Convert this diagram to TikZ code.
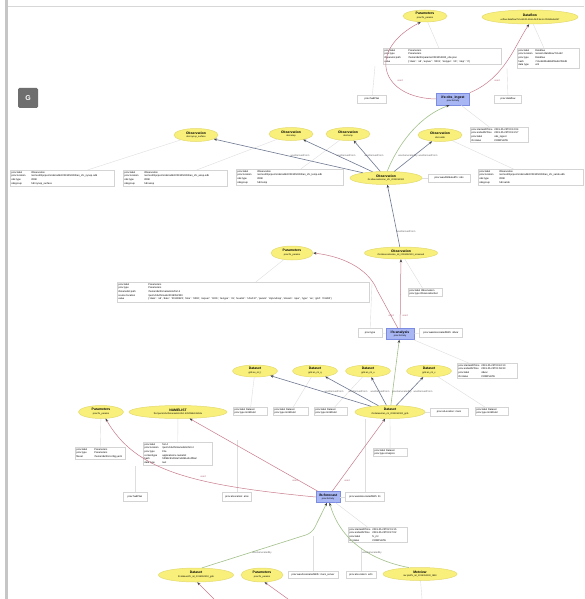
\documentclass[tikz,border=0pt]{standalone}
\usepackage{fontspec}
\setmainfont{Liberation Sans}
\usetikzlibrary{shapes.geometric,arrows.meta}

\definecolor{entfill}{HTML}{F8F07A}
\definecolor{entline}{HTML}{E4DA70}
\definecolor{actfill}{HTML}{A8B6F4}
\definecolor{actline}{HTML}{7C8CE0}
\definecolor{usedc}{HTML}{C87A8C}
\definecolor{derivc}{HTML}{6E7890}
\definecolor{genc}{HTML}{A2C08A}
\definecolor{annc}{HTML}{DEDEDE}
\definecolor{boxc}{HTML}{D4D4D4}
\definecolor{framec}{HTML}{C6C6C6}
\definecolor{btnc}{HTML}{6E6E6E}

\newcommand\entfont{\fontsize{3.4}{3.9}\selectfont}
\newcommand\subfont{\fontsize{2.3}{2.8}\selectfont}
\newcommand\infofont{\fontsize{2.5}{3.7}\selectfont}
\newcommand\entlbl[2]{{\bfseries #1}\\{\subfont #2}}
\newcommand\kv[3][20pt]{\makebox[#1][l]{#2}#3}

\tikzset{
  ent/.style={ellipse, draw=entline, fill=entfill, line width=0.5pt, inner sep=0pt, font=\entfont, align=center},
  act/.style={rectangle, draw=actline, fill=actfill, line width=0.5pt, inner sep=0pt, font=\entfont, align=center},
  info/.style={rectangle, draw=boxc, fill=white, line width=0.35pt, inner sep=1.2pt, font=\infofont, align=left, anchor=north west},
  sbox/.style={rectangle, draw=boxc, fill=white, line width=0.35pt, inner sep=0.8pt, font=\infofont},
  usedE/.style={draw=usedc, line width=0.5pt, -{Stealth[length=3.2pt,width=2.6pt,color=black!75]}},
  derE/.style={draw=derivc, line width=0.6pt, -{Stealth[length=3.2pt,width=2.6pt,color=black!75]}},
  genE/.style={draw=genc, line width=0.6pt, -{Stealth[length=3.2pt,width=2.6pt,color=black!75]}},
  annE/.style={draw=annc, line width=0.4pt},
  ulbl/.style={font=\infofont, text=usedc!90!black, inner sep=0pt},
  dlbl/.style={font=\infofont, text=black!60, inner sep=0pt},
  gbtn/.style={rectangle, rounded corners=1.5pt, fill=btnc, text=white, font=\fontsize{7}{8}\selectfont\bfseries, minimum size=20pt, inner sep=0pt}
}

\begin{document}
\begin{tikzpicture}[x=1pt,y=-1pt]
\useasboundingbox (0,0) rectangle (584,599);
\fill[white] (0,0) rectangle (584,599);

% window frame
\fill[framec] (5,0) rectangle (7.5,599);
\draw[framec!70, line width=0.8pt] (7.5,6) -- (584,6);
\node[gbtn] (gbutton) at (28,98) {G};

% ---------- top: observation ingest activity ----------
\node[ent, minimum width=44pt, minimum height=12pt] (p1) at (425,16) {\entlbl{Parameters}{prov:ifs\_params}};
\node[ent, minimum width=96pt, minimum height=14pt] (df1) at (530,17) {\entlbl{Dataflow}{ecflow:dataflow/7c1e52d0-43a9-4b4f-9a3c-2f61d8a5e0b7}};
\node[info, text width=116pt] (ip1) at (383,48) {\kv[24pt]{prov:label}{Parameters}\\
\kv[24pt]{prov:type}{Parameters}\\
\kv[24pt]{ifsparams:path}{/home/rdx/ifs/params/2019052300\_obs.json}\\
\kv[24pt]{value}{\{'class': 'od', 'expver': '0001', 'levtype': 'sfc', 'step': '0'\}}};
\node[info, text width=60pt] (idf1) at (517,48) {\kv[17pt]{prov:label}{Dataflow}\\
\kv[17pt]{prov:location}{/ec/ws1/dataflow/7c1e52}\\
\kv[17pt]{prov:type}{Dataflow}\\
\kv[17pt]{hash}{7c1e52d0a94b4f9a3c2f61d8}\\
\kv[17pt]{data type}{xml}};
\node[act, minimum width=33pt, minimum height=12pt] (b1) at (453,99) {\entlbl{ifs:obs\_ingest}{prov:Activity}};
\node[sbox, minimum width=29pt, minimum height=8pt] (s1a) at (372,99) {prov:hadPlan};
\node[sbox, minimum width=27pt, minimum height=8pt] (s1b) at (508,99) {prov:dataflow};
\node[info, text width=56pt] (ib1) at (470,127) {\kv[23pt]{prov:startedAtTime}{2019-05-23T00:12:04}\\
\kv[23pt]{prov:endedAtTime}{2019-05-23T00:41:57}\\
\kv[23pt]{prov:label}{obs\_ingest}\\
\kv[23pt]{ifs:status}{COMPLETE}};
\coordinate (s1aTop) at (375,66);
\coordinate (s1bTop) at (507,68);

% ---------- observations ----------
\node[ent, minimum width=72pt, minimum height=13pt] (o0) at (386,178) {\entlbl{Observation}{ifs:observation/an\_sfc\_2019052300}};
\node[ent, minimum width=44pt, minimum height=13pt] (o1) at (196,135) {\entlbl{Observation}{obs:synop\_surface}};
\node[ent, minimum width=44pt, minimum height=13pt] (o2) at (291,134) {\entlbl{Observation}{obs:airep}};
\node[ent, minimum width=44pt, minimum height=13pt] (o3) at (348,134) {\entlbl{Observation}{obs:temp}};
\node[ent, minimum width=44pt, minimum height=13pt] (o4) at (440,135) {\entlbl{Observation}{obs:satob}};
\node[info, text width=102pt] (io1) at (10,170) {\kv{prov:label}{Observation}\\
\kv{prov:location}{/ec/res4/hpcperm/obs/odb2/2019052300/an\_sfc\_synop.odb}\\
\kv{obs:type}{ODB}\\
\kv{obsgroup}{hdr:synop\_surface}};
\node[info, text width=102pt] (io2) at (123,170) {\kv{prov:label}{Observation}\\
\kv{prov:location}{/ec/res4/hpcperm/obs/odb2/2019052300/an\_sfc\_airep.odb}\\
\kv{obs:type}{ODB}\\
\kv{obsgroup}{hdr:airep}};
\node[info, text width=105pt] (io3) at (236,169) {\kv{prov:label}{Observation}\\
\kv{prov:location}{/ec/res4/hpcperm/obs/odb2/2019052300/an\_sfc\_temp.odb}\\
\kv{obs:type}{ODB}\\
\kv{obsgroup}{hdr:temp}};
\node[info, text width=103pt] (io4) at (478,169) {\kv{prov:label}{Observation}\\
\kv{prov:location}{/ec/res4/hpcperm/obs/odb2/2019052300/an\_sfc\_satob.odb}\\
\kv{obs:type}{ODB}\\
\kv{obsgroup}{hdr:satob}};
\node[sbox, minimum width=42pt, minimum height=8pt] (so0) at (449,178) {prov:wasAttributedTo: obs};

% ---------- analysis activity ----------
\node[ent, minimum width=73pt, minimum height=12pt] (o5) at (401,253) {\entlbl{Observation}{ifs:observation/an\_ml\_2019052300\_screened}};
\node[ent, minimum width=42pt, minimum height=14pt] (p2) at (292,253) {\entlbl{Parameters}{prov:ifs\_params}};
\node[info, text width=250pt] (ip2) at (117,282) {\kv[30pt]{prov:label}{Parameters}\\
\kv[30pt]{prov:type}{Parameters}\\
\kv[30pt]{ifsnamelist:path}{/home/rdx/ifs/namelists/fort.4}\\
\kv[30pt]{source:location}{/perm/rdx/ifs/suite/2019052300}\\
\kv[30pt]{value}{\{'class': 'od', 'date': '20190523', 'time': '0000', 'expver': '0001', 'levtype': 'ml', 'levelist': '1/to/137', 'param': 't/q/u/v/lnsp', 'stream': 'oper', 'type': 'an', 'grid': 'O1280'\}}};
\node[act, minimum width=28pt, minimum height=11pt] (b2) at (400,334) {\entlbl{ifs:analysis}{prov:Activity}};
\node[sbox, minimum width=24pt, minimum height=9pt] (s2a) at (370,333) {prov:type};
\node[sbox, minimum width=43pt, minimum height=9pt] (s2b) at (441,333) {prov:wasAssociatedWith: 4dvar};
\node[info, text width=31.5pt] (s2c) at (408,288) {prov:label Observation\\prov:type ObservationSet};
\node[info, text width=57.5pt] (ib2) at (457,363) {\kv[23pt]{prov:startedAtTime}{2019-05-23T00:42:10}\\
\kv[23pt]{prov:endedAtTime}{2019-05-23T01:58:33}\\
\kv[23pt]{prov:label}{4dvar}\\
\kv[23pt]{ifs:status}{COMPLETE}};
\coordinate (s2aTop) at (372,283);

% ---------- datasets ----------
\node[ent, minimum width=45pt, minimum height=12pt] (d1) at (255,371) {\entlbl{Dataset}{grib:an\_ml\_t}};
\node[ent, minimum width=45pt, minimum height=12pt] (d2) at (315,371) {\entlbl{Dataset}{grib:an\_ml\_q}};
\node[ent, minimum width=45pt, minimum height=12pt] (d3) at (368,371) {\entlbl{Dataset}{grib:an\_ml\_u}};
\node[ent, minimum width=45pt, minimum height=12pt] (d4) at (429,371) {\entlbl{Dataset}{grib:an\_ml\_v}};
\node[ent, minimum width=70pt, minimum height=13pt] (dc) at (390,412) {\entlbl{Dataset}{ifs:dataset/an\_ml\_2019052300\_grib}};
\node[info, text width=31.5pt] (di1) at (233,407) {prov:label Dataset\\prov:type GribField};
\node[info, text width=32.5pt] (di2) at (273,407) {prov:label Dataset\\prov:type GribField};
\node[info, text width=30.5pt] (di3) at (314,407) {prov:label Dataset\\prov:type GribField};
\node[sbox, minimum width=38pt, minimum height=8pt] (sdc) at (449,412) {prov:atLocation: mars};
\node[info, text width=30.5pt] (di4) at (475,407) {prov:label Dataset\\prov:type GribField};
\node[info, text width=31.5pt] (dci) at (373,448) {prov:label Dataset\\prov:type Analysis};

% ---------- forecast activity ----------
\node[ent, minimum width=45pt, minimum height=13pt] (p3) at (101,412) {\entlbl{Parameters}{prov:ifs\_params}};
\node[ent, minimum width=98pt, minimum height=13pt] (w1) at (178,412) {\entlbl{NAMELIST}{file:/perm/rdx/ifs/namelists/fort.4\#5f2b8c91d04e}};
\node[info, text width=47.5pt] (ip3) at (75,447) {\kv[18pt]{prov:label}{Parameters}\\
\kv[18pt]{prov:type}{Parameters}\\
\kv[18pt]{fileset}{/home/rdx/ifs/config.yaml}};
\node[info, text width=66.5pt] (iw1) at (143,442) {\kv[18pt]{prov:label}{fort.4}\\
\kv[18pt]{prov:location}{/perm/rdx/ifs/namelists/fort.4}\\
\kv[18pt]{prov:type}{File}\\
\kv[18pt]{contenttype}{application/x-namelist}\\
\kv[18pt]{hash}{5f2b8c91d04e7a63b1e0c4f8a2}\\
\kv[18pt]{data type}{text}};
\node[act, minimum width=24pt, minimum height=11pt] (b3) at (328,497) {\entlbl{ifs:forecast}{prov:Activity}};
\node[sbox, minimum width=24pt, minimum height=9pt] (s3a) at (135,497) {prov:hadPlan};
\node[sbox, minimum width=29pt, minimum height=9pt] (s3b) at (237,497) {prov:atLocation: atos};
\node[sbox, minimum width=39pt, minimum height=9pt] (s3c) at (365,497) {prov:wasAssociatedWith: ifs};
\node[info, text width=56.5pt] (ib3) at (348,527) {\kv[23pt]{prov:startedAtTime}{2019-05-23T02:01:15}\\
\kv[23pt]{prov:endedAtTime}{2019-05-23T03:47:02}\\
\kv[23pt]{prov:label}{fc\_ml}\\
\kv[23pt]{ifs:status}{COMPLETE}};
\coordinate (s3aTop) at (135,466);
\coordinate (s3bTop) at (237,440);

% ---------- bottom row ----------
\node[ent, minimum width=75pt, minimum height=14pt] (e1) at (196,575) {\entlbl{Dataset}{ifs:dataset/fc\_ml\_2019052300\_grib}};
\node[ent, minimum width=42pt, minimum height=14pt] (e2) at (262,575) {\entlbl{Parameters}{prov:ifs\_params}};
\node[ent, minimum width=74pt, minimum height=13pt] (e3) at (420,574) {\entlbl{Metview}{mv:plot/fc\_ml\_2019052300\_t850}};
\node[sbox, minimum width=50pt, minimum height=7pt] (sb1) at (313,575) {prov:wasAssociatedWith: mars\_server};
\node[sbox, minimum width=30pt, minimum height=7pt] (sb2) at (361,575) {prov:atLocation: ecfs};
\coordinate (sb1Top) at (313,536);
\coordinate (sb2Top) at (361,548);
\coordinate (cut1) at (214,599);
\coordinate (cut2) at (288,599);
\coordinate (cut3) at (422,599);

% ---------- annotation links ----------
\draw[annE] (p1) -- (ip1);
\draw[annE] (df1) -- (idf1);
\draw[annE] (s1a) -- (s1aTop);
\draw[annE] (s1b) -- (s1bTop);
\draw[annE] (b1) -- (ib1);
\draw[annE] (o1) -- (io1);
\draw[annE] (o2) -- (io2);
\draw[annE] (o3) -- (io3);
\draw[annE] (o4) -- (io4);
\draw[annE] (o0) -- (so0);
\draw[annE] (p2) -- (ip2);
\draw[annE] (o5) -- (s2c);
\draw[annE] (b2) -- (s2a);
\draw[annE] (b2) -- (s2b);
\draw[annE] (s2a) -- (s2aTop);
\draw[annE] (b2) -- (ib2);
\draw[annE] (d1) -- (di1);
\draw[annE] (d2) -- (di2);
\draw[annE] (d3) -- (di3);
\draw[annE] (d4) -- (di4);
\draw[annE] (dc) -- (sdc);
\draw[annE] (dc) -- (dci);
\draw[annE] (p3) -- (ip3);
\draw[annE] (w1) -- (iw1);
\draw[annE] (s3a) -- (s3aTop);
\draw[annE] (s3b) -- (s3bTop);
\draw[annE] (s3c.north) -- (s3c.north |- dc.south);
\draw[annE] (b3) -- (s3c);
\draw[annE] (b3) -- (ib3);
\draw[annE] (sb1) -- (sb1Top);
\draw[annE] (sb2) -- (sb2Top);
\draw[annE] (e3) -- (cut3);

% ---------- provenance relations ----------
\draw[usedE] (b1.west) .. controls (380,98) and (366,50) .. (p1.-125);
\node[ulbl] (u1) at (400,81) {used};
\draw[usedE] (b1.north east) .. controls (505,78) and (515,45) .. (df1.-97);
\node[ulbl] (u2) at (497,81) {used};

\draw[derE] (o0) -- (o1);
\node[dlbl] (l1) at (300,156) {wasDerivedFrom};
\draw[derE] (o0) -- (o2);
\node[dlbl] (l2) at (346,156) {wasDerivedFrom};
\draw[derE] (o0) -- (o3);
\node[dlbl] (l3) at (374,156) {wasDerivedFrom};
\draw[derE] (o0) -- (o4);
\node[dlbl] (l4) at (428,156) {wasDerivedFrom};
\draw[genE] (o0.80) .. controls (400,140) and (422,115) .. (b1.-120);
\node[dlbl] (g1) at (408,156) {wasGeneratedBy};

\draw[derE] (o5) -- (o0);
\node[dlbl] (l5) at (406,232) {wasDerivedFrom};
\draw[usedE] (b2) -- (o5);
\node[ulbl] (u3) at (405,316) {used};
\draw[usedE] (b2.110) -- (377,290) .. controls (370,272) and (348,257) .. (p2.east);
\node[ulbl] (u4) at (391,316) {used};

\draw[derE] (dc) -- (d1);
\node[dlbl] (l6) at (334,392) {wasDerivedFrom};
\draw[derE] (dc) -- (d2);
\node[dlbl] (l7) at (358,392) {wasDerivedFrom};
\draw[derE] (dc) -- (d3);
\node[dlbl] (l8) at (380,392) {wasDerivedFrom};
\draw[derE] (dc) -- (d4);
\node[dlbl] (l9) at (423,392) {wasDerivedFrom};
\draw[genE] (dc) -- (b2);
\node[dlbl] (g2) at (402,392) {wasGeneratedBy};

\draw[usedE] (b3.west) .. controls (190,485) and (135,470) .. (p3.-55);
\node[ulbl] (u5) at (203,477) {used};
\draw[usedE] (b3) -- (w1);
\node[ulbl] (u6) at (295,481) {used};
\draw[usedE] (b3) -- (dc);
\node[ulbl] (u7) at (347,481) {used};

\draw[genE, rounded corners=6pt] (e1.50) -- (312,533) -- (b3.-100);
\node[dlbl] (g3) at (262,553) {wasGeneratedBy};
\draw[genE] (e3.150) .. controls (370,560) and (340,540) .. (b3.-75);
\node[dlbl] (g4) at (372,553) {wasGeneratedBy};

\draw[usedE] (cut1) -- (e1.-80);
\draw[usedE] (cut2) -- (e2.-70);
\end{tikzpicture}
\end{document}
